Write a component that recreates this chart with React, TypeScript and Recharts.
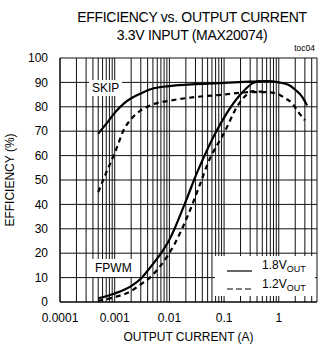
import React from 'react';
import { LineChart, Line, XAxis, YAxis, CartesianGrid, Label } from 'recharts';

// output current (A) / efficiency (%)
const skip18 = [
  { x: 0.0005, y: 69 }, { x: 0.0007, y: 73 }, { x: 0.001, y: 77.5 }, { x: 0.0015, y: 81.5 },
  { x: 0.002, y: 83.5 }, { x: 0.003, y: 85.5 }, { x: 0.005, y: 87.5 }, { x: 0.01, y: 88.5 },
  { x: 0.03, y: 89.3 }, { x: 0.1, y: 89.8 }, { x: 0.3, y: 90.3 }, { x: 0.6, y: 90.5 },
  { x: 1, y: 90 }, { x: 1.5, y: 89 }, { x: 2, y: 87 }, { x: 2.7, y: 84 }, { x: 3.3, y: 80.5 },
];
const skip12 = [
  { x: 0.0005, y: 45 }, { x: 0.0007, y: 53 }, { x: 0.001, y: 61 }, { x: 0.0015, y: 71 },
  { x: 0.002, y: 75 }, { x: 0.003, y: 78.5 }, { x: 0.005, y: 81 }, { x: 0.01, y: 82.5 },
  { x: 0.03, y: 84 }, { x: 0.1, y: 85 }, { x: 0.3, y: 86 }, { x: 0.6, y: 86 },
  { x: 0.85, y: 85.6 }, { x: 1.3, y: 83.6 }, { x: 1.75, y: 81.5 }, { x: 2.25, y: 78 }, { x: 3, y: 74.5 },
];
const fpwm18 = [
  { x: 0.0005, y: 1.5 }, { x: 0.001, y: 3.5 }, { x: 0.002, y: 6.5 }, { x: 0.003, y: 9.5 },
  { x: 0.0044, y: 14 }, { x: 0.0068, y: 19.5 }, { x: 0.01, y: 25.5 }, { x: 0.0193, y: 40.5 },
  { x: 0.032, y: 53 }, { x: 0.045, y: 60.5 }, { x: 0.065, y: 68 }, { x: 0.113, y: 77.5 },
  { x: 0.195, y: 84.8 }, { x: 0.337, y: 89.7 }, { x: 0.46, y: 90.5 },
];
const fpwm12 = [
  { x: 0.0005, y: 0.5 }, { x: 0.001, y: 2 }, { x: 0.002, y: 4.5 }, { x: 0.0029, y: 7 },
  { x: 0.0044, y: 10 }, { x: 0.0067, y: 14.5 }, { x: 0.0126, y: 24 }, { x: 0.0219, y: 35.6 },
  { x: 0.036, y: 48 }, { x: 0.0508, y: 57 }, { x: 0.104, y: 70 }, { x: 0.172, y: 80 },
  { x: 0.26, y: 85 }, { x: 0.32, y: 86.3 }, { x: 0.5, y: 86.2 },
];

const decades = [0.0001, 0.001, 0.01, 0.1, 1];
const decadeLabels = ['0.0001', '0.001', '0.01', '0.1', '1'];
const yTicks = [0, 10, 20, 30, 40, 50, 60, 70, 80, 90, 100];

const xGrid = decades
  .flatMap((d) => [1, 2, 3, 4, 5, 6, 7, 8, 9].map((m) => +(m * d).toPrecision(3)))
  .filter((v) => v <= 5);

const font = '"Liberation Sans", Arial, sans-serif';

const fmtX = (v: number) => {
  const i = decades.findIndex((d) => Math.abs(d - v) < d * 1e-6);
  return i >= 0 ? decadeLabels[i] : '';
};

export default function App() {
  return (
    <div style={{ position: 'absolute', left: 0, top: 0, width: 320, height: 350, fontFamily: font, color: '#000', background: '#fff' }}>
      <div style={{ position: 'absolute', left: 60, width: 264, top: 8, textAlign: 'center', fontSize: 14, lineHeight: '18px', letterSpacing: -0.3 }}>
        EFFICIENCY vs. OUTPUT CURRENT<br />3.3V INPUT (MAX20074)
      </div>
      <div style={{ position: 'absolute', right: 5, top: 43, fontSize: 8.5 }}>toc04</div>
      <LineChart width={320} height={350} margin={{ top: 58, right: 3, left: 0, bottom: 18 }}>
        <CartesianGrid stroke="#111" strokeWidth={1} horizontalValues={yTicks} verticalValues={xGrid} />
        <XAxis
          type="number"
          dataKey="x"
          scale="log"
          domain={[0.0001, 5]}
          allowDataOverflow
          ticks={xGrid}
          interval={0}
          tickFormatter={fmtX}
          tickLine={false}
          tickMargin={5}
          height={30}
          stroke="#000"
          tick={{ fill: '#000', fontSize: 12, fontFamily: font }}
        >
          <Label value="OUTPUT CURRENT (A)" position="bottom" offset={0} style={{ fill: '#000', fontSize: 12, fontFamily: font }} />
        </XAxis>
        <YAxis
          type="number"
          domain={[0, 100]}
          ticks={yTicks}
          interval={0}
          tickLine={false}
          tickMargin={6}
          width={60}
          stroke="#000"
          tick={{ fill: '#000', fontSize: 12, fontFamily: font }}
        >
          <Label value="EFFICIENCY (%)" angle={-90} position="insideLeft" offset={10} style={{ fill: '#000', fontSize: 12, fontFamily: font, textAnchor: 'middle' }} />
        </YAxis>
        <Line data={skip18} dataKey="y" type="monotone" stroke="#000" strokeWidth={2.2} dot={false} isAnimationActive={false} />
        <Line data={skip12} dataKey="y" type="monotone" stroke="#000" strokeWidth={2.2} strokeDasharray="5 4" dot={false} isAnimationActive={false} />
        <Line data={fpwm18} dataKey="y" type="monotone" stroke="#000" strokeWidth={2.2} dot={false} isAnimationActive={false} />
        <Line data={fpwm12} dataKey="y" type="monotone" stroke="#000" strokeWidth={2.2} strokeDasharray="5 4" dot={false} isAnimationActive={false} />
      </LineChart>
      <div style={{ position: 'absolute', left: 89, top: 80, background: '#fff', fontSize: 12, padding: '1px 3px', lineHeight: '14px' }}>SKIP</div>
      <div style={{ position: 'absolute', left: 92, top: 259, background: '#fff', fontSize: 12, padding: '2px 3px', lineHeight: '14px' }}>FPWM</div>
      <div style={{ position: 'absolute', left: 215, top: 256, width: 100, height: 40, background: '#fff', fontSize: 12 }}>
        <svg width={30} height={40} style={{ position: 'absolute', left: 10, top: 0 }}>
          <line x1={2} x2={27} y1={15} y2={15} stroke="#000" strokeWidth={1.2} />
          <line x1={2} x2={27} y1={33} y2={33} stroke="#000" strokeWidth={1.2} strokeDasharray="6 3" />
        </svg>
        <div style={{ position: 'absolute', left: 47, top: 2, lineHeight: '14px' }}>1.8V<sub style={{ fontSize: 9, verticalAlign: -3 }}>OUT</sub></div>
        <div style={{ position: 'absolute', left: 47, top: 21, lineHeight: '14px' }}>1.2V<sub style={{ fontSize: 9, verticalAlign: -3 }}>OUT</sub></div>
      </div>
    </div>
  );
}
